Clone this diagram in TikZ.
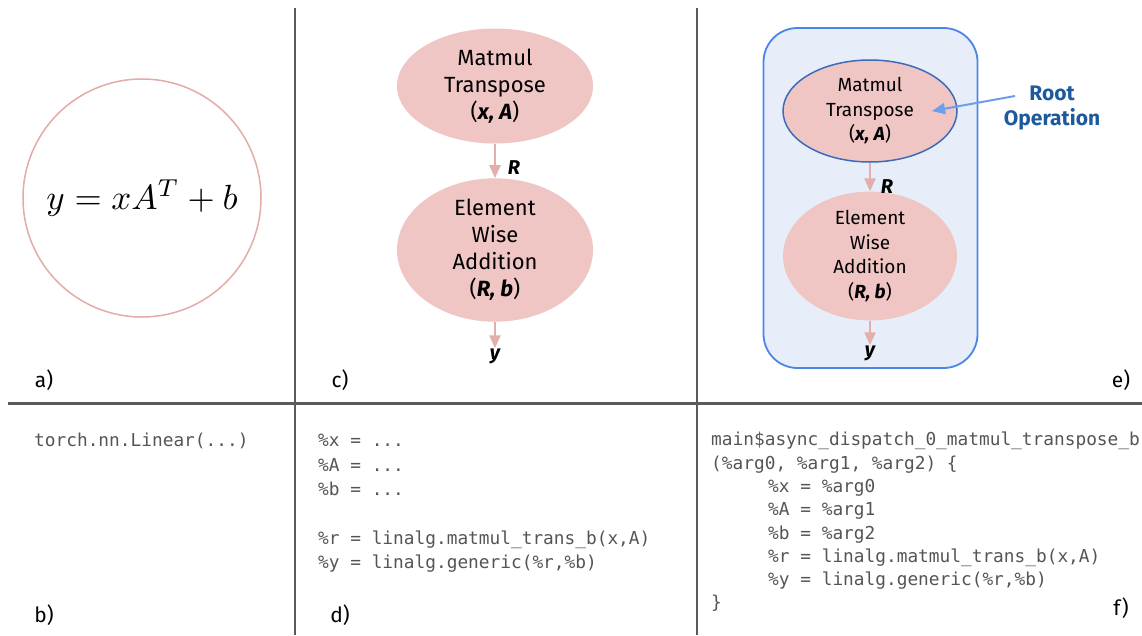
\documentclass[tikz,border=0pt]{standalone}
\usepackage{fontspec}
\setmainfont{Fira Sans}
\newfontfamily\codefont{DejaVu Sans Mono}
\usetikzlibrary{shapes.geometric,arrows.meta}

\definecolor{opfill}{HTML}{F0C6C4}
\definecolor{flowpink}{HTML}{E2AFAA}
\definecolor{ringpink}{HTML}{E3ACA6}
\definecolor{boxblue}{HTML}{4A86E8}
\definecolor{boxfill}{HTML}{E8EEF9}
\definecolor{rootblue}{HTML}{1C5A9C}
\definecolor{pointerblue}{HTML}{6D9EEB}
\definecolor{rulegray}{HTML}{5A5A5A}
\definecolor{codegray}{HTML}{555555}

\tikzset{
  opnode/.style={ellipse, fill=opfill, inner sep=0pt, align=center, text=black},
  bigop/.style={opnode, minimum width=196pt, minimum height=115pt,
    font=\fontsize{22}{27}\selectfont},
  smallop/.style={opnode, minimum width=174pt, minimum height=102pt,
    font=\fontsize{19}{24.5}\selectfont},
  flow/.style={draw=flowpink, line width=2.5pt,
    -{Triangle[length=13pt,width=11pt]}},
  edgelabel/.style={font=\fontsize{20}{24}\selectfont\bfseries\itshape, inner sep=0pt},
  codetext/.style={font=\codefont, text=codegray,
    align=left, anchor=north west, inner sep=0pt},
  panellabel/.style={font=\fontsize{21}{24}\selectfont, inner sep=0pt},
  divider/.style={draw=rulegray, line width=1.4pt}
}

\begin{document}
\begin{tikzpicture}[x=1pt, y=-1pt]
  \useasboundingbox (0,0) rectangle (1142,635);
  \fill[white] (0,0) rectangle (1142,635);

  % panel grid
  \draw[divider] (295,8) -- (295,635);
  \draw[divider] (697,8) -- (697,635);
  \draw[draw=rulegray, line width=3pt] (8,403) -- (1142,403);

  % a) the layer as a formula
  \node[circle, draw=ringpink, line width=1.5pt, minimum size=238pt, inner sep=0pt]
    (formula) at (142,198) {\scalebox{3.5}{$y = xA^T + b$}};
  \node[panellabel] (la) at (44,380) {a)};

  % c) operation graph
  \node[bigop] (mmC) at (495,86)
    {Matmul\\Transpose\\(\textbf{\textit{x, A}})};
  \node[bigop] (addC) at (495,250)
    {Element\\Wise\\Addition\\(\textbf{\textit{R, b}})};
  \node[edgelabel] (outC) at (495,356) {y};
  \draw[flow] (mmC.south) -- (addC.north);
  \draw[flow] (addC.south) -- (outC.north);
  \node[edgelabel] (rC) at (514,168) {R};
  \node[panellabel] (lc) at (340,380) {c)};

  % e) dispatch region around the graph
  \node[draw=boxblue, fill=boxfill, line width=1.8pt, rounded corners=34pt,
    minimum width=214pt, minimum height=340pt, inner sep=0pt]
    (region) at (870.5,198) {};
  \node[smallop, draw=boxblue!80!black, line width=1.5pt] (mmE) at (870,111)
    {Matmul\\Transpose\\(\textbf{\textit{x, A}})};
  \node[smallop] (addE) at (870,256)
    {Element\\Wise\\Addition\\(\textbf{\textit{R, b}})};
  \node[edgelabel] (outE) at (870,353) {y};
  \draw[flow] (mmE.south) -- (addE.north);
  \draw[flow] (addE.south) -- (outE.north);
  \node[edgelabel] (rE) at (887,187) {R};

  \node[font=\fontsize{21}{25}\selectfont\bfseries, text=rootblue, align=center,
    inner sep=0pt] (root) at (1052,108) {Root\\Operation};
  \coordinate (rootTail) at (1015,96);
  \coordinate (rootTip) at (932,111);
  \draw[draw=pointerblue, line width=2pt, -{Triangle[length=13pt,width=11pt]}]
    (rootTail) -- (rootTip);
  \node[panellabel] (le) at (1121,380) {e)};

  % b) framework call
  \node[codetext, font=\fontsize{17.8}{24.4}\selectfont\codefont] (codeB) at (34,433)
    {torch.nn.Linear(...)};
  \node[panellabel] (lb) at (44,615) {b)};

  % d) linalg dialect
  \node[codetext, font=\fontsize{17.8}{24.4}\selectfont\codefont] (codeD) at (318,434)
    {\%x = ...\\\%A = ...\\\%b = ...\\[24.4pt]%
     \%r = linalg.matmul\_trans\_b(x,A)\\\%y = linalg.generic(\%r,\%b)};
  \node[panellabel] (ld) at (340,615) {d)};

  % f) outlined dispatch function
  \node[codetext, font=\fontsize{17.8}{23.3}\selectfont\codefont] (codeF) at (711,432)
    {main\$async\_dispatch\_0\_matmul\_transpose\_b\\(\%arg0, \%arg1, \%arg2) \{\\%
     \hspace*{57pt}\%x = \%arg0\\\hspace*{57pt}\%A = \%arg1\\\hspace*{57pt}\%b = \%arg2\\%
     \hspace*{57pt}\%r = linalg.matmul\_trans\_b(x,A)\\%
     \hspace*{57pt}\%y = linalg.generic(\%r,\%b)\\\}};
  \node[panellabel] (lf) at (1121,608) {f)};
\end{tikzpicture}
\end{document}
